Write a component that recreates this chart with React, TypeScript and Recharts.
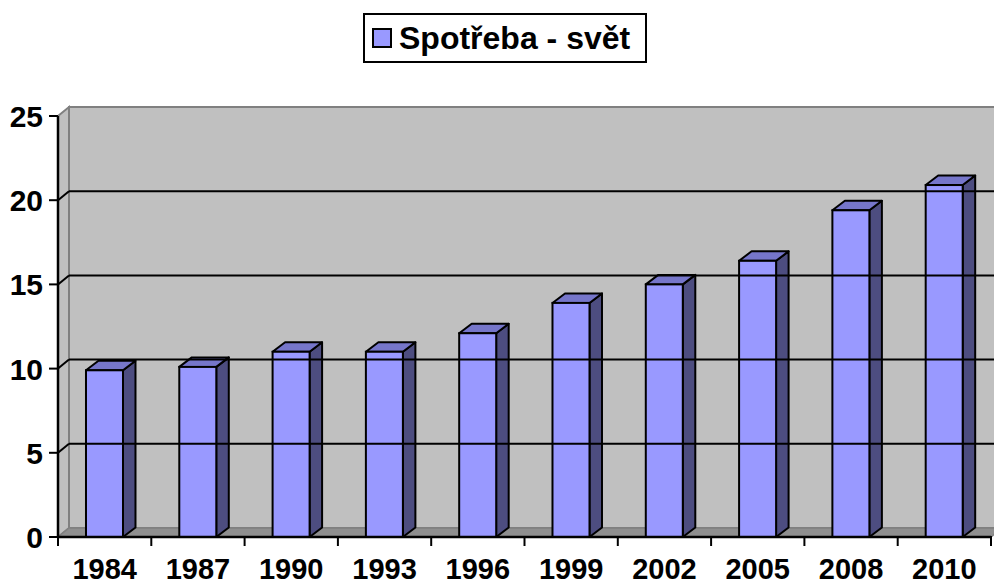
import React from "react";
import { BarChart, Bar, XAxis, YAxis, ReferenceArea, ReferenceLine, Legend } from "recharts";

const years = ["1984", "1987", "1990", "1993", "1996", "1999", "2002", "2005", "2008", "2010"];
const consumption = [9.9, 10.1, 11.0, 11.0, 12.1, 13.9, 15.0, 16.4, 19.4, 20.9];
const yTicks = [0, 5, 10, 15, 20, 25];
const gridValues = [5, 10, 15, 20];
const seriesName = "Spotřeba - svět";

const data = years.map((y, i) => ({ year: y, value: consumption[i] }));

const FONT = '"Liberation Sans", Arial, sans-serif';
const WALL_DX = 11;
const WALL_DY = -9;
const BAR_DX = 12.5;
const BAR_DY = -9.5;

const FRONT = "#9999FF";
const TOP = "#7676CA";
const SIDE = "#4D4D80";

const Bar3D = (props: any) => {
  const { x, y, width, height } = props;
  if (width == null || height == null) return null;
  const sw = 2;
  return (
    <g>
      <polygon
        points={`${x + width},${y} ${x + width + BAR_DX},${y + BAR_DY} ${x + width + BAR_DX},${y + height + BAR_DY} ${x + width},${y + height}`}
        fill={SIDE}
        stroke="#000"
        strokeWidth={sw}
        strokeLinejoin="round"
      />
      <polygon
        points={`${x},${y} ${x + BAR_DX},${y + BAR_DY} ${x + width + BAR_DX},${y + BAR_DY} ${x + width},${y}`}
        fill={TOP}
        stroke="#000"
        strokeWidth={sw}
        strokeLinejoin="round"
      />
      <rect x={x} y={y} width={width} height={height} fill={FRONT} stroke="#000" strokeWidth={sw} />
    </g>
  );
};

const Walls = (props: any) => {
  const { x, y, width, height } = props;
  const x2 = x + width;
  const y2 = y + height;
  return (
    <g>
      <rect x={x + WALL_DX} y={y + WALL_DY} width={width} height={height} fill="#C0C0C0" stroke="#808080" strokeWidth={2} />
      <polygon
        points={`${x},${y} ${x + WALL_DX},${y + WALL_DY} ${x + WALL_DX},${y2 + WALL_DY} ${x},${y2}`}
        fill="#C0C0C0"
        stroke="#808080"
        strokeWidth={2}
      />
      <polygon
        points={`${x},${y2} ${x + WALL_DX},${y2 + WALL_DY} ${x2 + WALL_DX},${y2 + WALL_DY} ${x2},${y2}`}
        fill="#8F8F8F"
        stroke="#808080"
        strokeWidth={1.5}
      />
    </g>
  );
};

const GridShape = (props: any) => {
  const { x1, y1, x2, y2 } = props;
  return (
    <g>
      <line x1={x1} y1={y1} x2={x1 + WALL_DX} y2={y1 + WALL_DY} stroke="#000" strokeWidth={2} />
      <line x1={x1 + WALL_DX} y1={y1 + WALL_DY} x2={x2 + WALL_DX} y2={y2 + WALL_DY} stroke="#000" strokeWidth={2} />
    </g>
  );
};

const XTick = (props: any) => {
  const { x, y, payload, index } = props;
  const half = payload && payload.offset ? payload.offset : 46.65;
  return (
    <g>
      <line x1={x - half} y1={y - 9} x2={x - half} y2={y + 1} stroke="#000" strokeWidth={2} />
      {index === years.length - 1 && (
        <line x1={x + half} y1={y - 9} x2={x + half} y2={y + 1} stroke="#000" strokeWidth={2} />
      )}
      <text x={x} y={y + 34} textAnchor="middle" fontFamily={FONT} fontWeight="bold" fontSize={29} fill="#000">
        {payload.value}
      </text>
    </g>
  );
};

const YTick = (props: any) => {
  const { x, y, payload } = props;
  return (
    <text x={x - 4} y={y + 11} textAnchor="end" fontFamily={FONT} fontWeight="bold" fontSize={30} fill="#000">
      {payload.value}
    </text>
  );
};

const LegendContent = () => (
  <div style={{ position: "relative", height: 103, width: "100%" }}>
    <div
      style={{
        position: "absolute",
        left: 363,
        top: 0,
        width: 284,
        height: 50,
        boxSizing: "border-box",
        border: "2px solid #000",
        background: "#fff",
        display: "flex",
        alignItems: "center",
      }}
    >
      <div
        style={{
          width: 20,
          height: 20,
          boxSizing: "border-box",
          border: "2px solid #000",
          background: FRONT,
          marginLeft: 7,
          marginRight: 7,
        }}
      />
      <span style={{ fontFamily: FONT, fontWeight: "bold", fontSize: 32, color: "#000", whiteSpace: "nowrap" }}>
        {seriesName}
      </span>
    </div>
  </div>
);

export default function App() {
  return (
    <div style={{ position: "absolute", left: 0, top: 0, width: 994, height: 585, background: "#fff" }}>
      <BarChart
        width={994}
        height={585}
        data={data}
        margin={{ top: 13, right: 3, bottom: 0, left: 0 }}
        barCategoryGap="30%"
      >
        <Legend verticalAlign="top" align="left" content={<LegendContent />} wrapperStyle={{ left: 0, top: 13 }} />
        <ReferenceArea y1={0} y2={25} ifOverflow="visible" shape={<Walls />} />
        {gridValues.map((v) => (
          <ReferenceLine key={v} y={v} ifOverflow="visible" shape={<GridShape />} />
        ))}
        <XAxis
          dataKey="year"
          tickLine={false}
          axisLine={{ stroke: "#000", strokeWidth: 2.5 }}
          tick={<XTick />}
          interval={0}
          height={48}
        />
        <YAxis
          domain={[0, 25]}
          ticks={yTicks}
          width={58}
          tickSize={9}
          tickLine={{ stroke: "#000", strokeWidth: 2 }}
          axisLine={{ stroke: "#000", strokeWidth: 2.5 }}
          tick={<YTick />}
          interval={0}
        />
        <Bar dataKey="value" name={seriesName} shape={<Bar3D />} isAnimationActive={false} />
      </BarChart>
    </div>
  );
}
